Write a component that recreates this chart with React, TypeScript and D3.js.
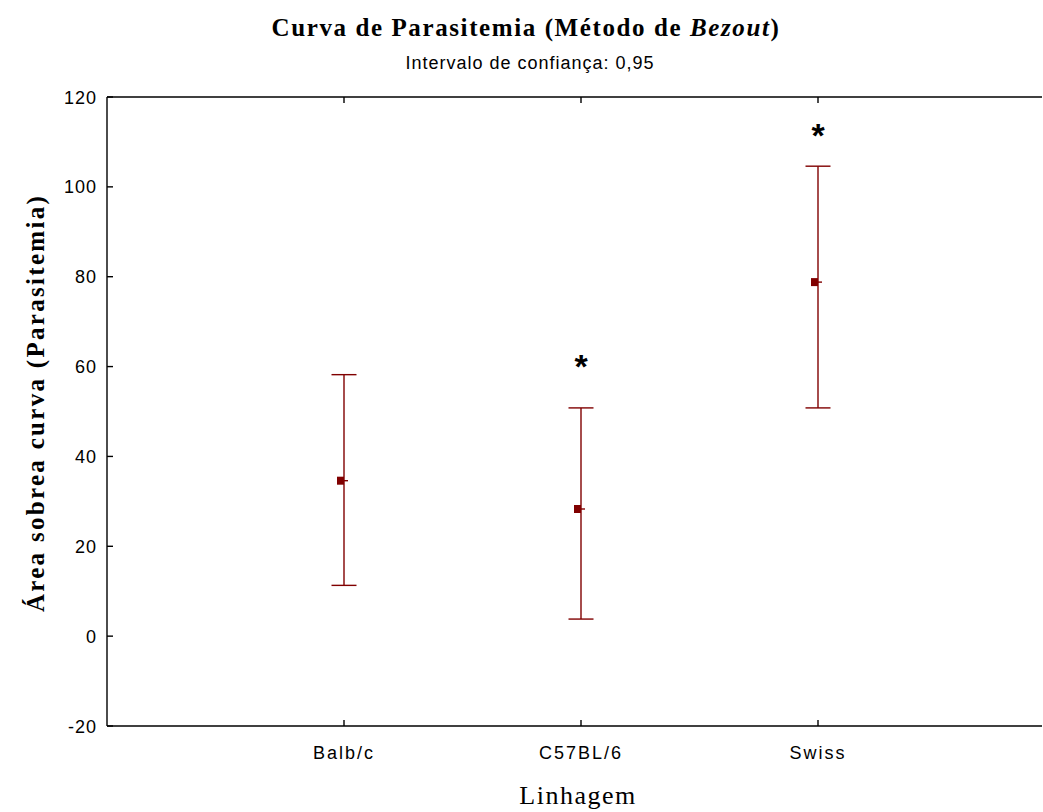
import * as d3 from 'd3'

const categories = ['Balb/c', 'C57BL/6', 'Swiss']
const means = [34.6, 28.3, 78.8]
const lower = [11.3, 3.8, 50.8]
const upper = [58.2, 50.8, 104.6]
// star marks (significance) and the value they are drawn at
const starAt = [null, 60.8, 112.3]
const yTicks = [-20, 0, 20, 40, 60, 80, 100, 120]

const W = 1043
const H = 812
const left = 107
const top = 97
const bottom = 726
const red = '#800000'

export default function App() {
    // categories sit at 1, 2, 3 on a 0..4 band; the right end runs off the picture
    const x = d3.scaleLinear().domain([0, 4]).range([left, left + 948])
    const y = d3.scaleLinear().domain([-20, 120]).range([bottom, top])

    return (
        <svg width={W} height={H} style={{ position: 'absolute', left: 0, top: 0, background: '#fff' }}>
            <text
                x={526}
                y={36}
                textAnchor="middle"
                fontFamily="Liberation Serif"
                fontWeight="bold"
                fontSize="25"
                letterSpacing="1.6"
            >
                Curva de Parasitemia (Método de <tspan fontStyle="italic">Bezout</tspan>)
            </text>
            <text x={530} y={69} textAnchor="middle" fontFamily="Liberation Sans" fontSize="18" letterSpacing="1">
                Intervalo de confiança: 0,95
            </text>

            {/* frame: left, top and bottom lines */}
            <line x1={left} x2={left} y1={top} y2={bottom} stroke="#000" strokeWidth={1.4} />
            <line x1={left} x2={W - 1} y1={top} y2={top} stroke="#000" strokeWidth={1.4} />
            <line x1={left} x2={W - 1} y1={bottom} y2={bottom} stroke="#000" strokeWidth={1.4} />

            {yTicks.map((t) => (
                <g key={t}>
                    <line x1={left} x2={left + 6} y1={y(t)} y2={y(t)} stroke="#000" strokeWidth={1.4} />
                    <text
                        x={97}
                        y={y(t) + 6.5}
                        textAnchor="end"
                        fontFamily="Liberation Sans"
                        fontSize="18"
                        letterSpacing="1"
                    >
                        {t}
                    </text>
                </g>
            ))}

            {categories.map((c, i) => (
                <g key={c}>
                    <line x1={x(i + 1)} x2={x(i + 1)} y1={bottom} y2={bottom - 6} stroke="#000" strokeWidth={1.4} />
                    <line x1={x(i + 1)} x2={x(i + 1)} y1={top} y2={top + 6} stroke="#000" strokeWidth={1.4} />
                    <text
                        x={x(i + 1)}
                        y={759}
                        textAnchor="middle"
                        fontFamily="Liberation Sans"
                        fontSize="18"
                        letterSpacing="2"
                    >
                        {c}
                    </text>
                </g>
            ))}

            {categories.map((c, i) => {
                const cx = x(i + 1)
                const star = starAt[i]
                return (
                    <g key={c + '-err'} stroke={red} strokeWidth={1.4}>
                        <line x1={cx} x2={cx} y1={y(upper[i])} y2={y(lower[i])} />
                        <line x1={cx - 12.5} x2={cx + 12.5} y1={y(upper[i])} y2={y(upper[i])} />
                        <line x1={cx - 12.5} x2={cx + 12.5} y1={y(lower[i])} y2={y(lower[i])} />
                        <rect x={cx - 7} y={y(means[i]) - 4} width={7} height={8} fill={red} stroke="none" />
                        <line x1={cx} x2={cx + 4} y1={y(means[i])} y2={y(means[i])} />
                        {star !== null && (
                            <text
                                x={cx}
                                y={y(star) + 15}
                                textAnchor="middle"
                                fontFamily="Liberation Sans"
                                fontWeight="bold"
                                fontSize="34"
                                fill="#000"
                                stroke="none"
                            >
                                *
                            </text>
                        )}
                    </g>
                )
            })}

            <text
                transform="translate(44, 403) rotate(-90)"
                textAnchor="middle"
                fontFamily="Liberation Serif"
                fontWeight="bold"
                fontSize="25"
                letterSpacing="2.3"
            >
                Área sobrea curva (Parasitemia)
            </text>
            <text
                x={578}
                y={804}
                textAnchor="middle"
                fontFamily="Liberation Serif"
                fontSize="26"
                letterSpacing="1.5"
            >
                Linhagem
            </text>
        </svg>
    )
}
